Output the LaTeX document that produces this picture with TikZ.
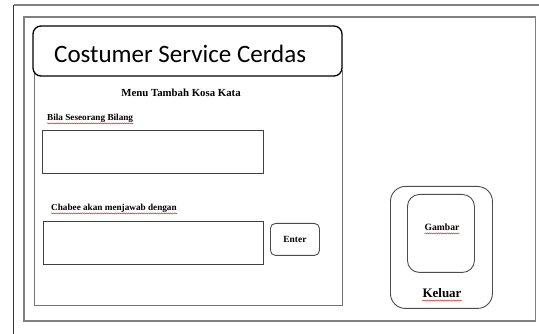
\documentclass[tikz,border=0pt]{standalone}
\usepackage{fontspec}
\setmainfont{Liberation Serif}
\newfontfamily\titlefont{Carlito}
\usetikzlibrary{decorations.pathmorphing}
\tikzset{
  framegray/.style={draw=black!50, line width=1.2pt},
  panelline/.style={draw=black!55, line width=1pt},
  inbox/.style={draw=black!75, line width=0.9pt},
  rbox/.style={draw=black!70, line width=0.9pt, rounded corners=#1},
  lbl/.style={font=\bfseries\fontsize{9.2}{10}\selectfont, inner sep=0pt},
  squig/.style={draw=red!85!black, line width=0.35pt, decorate, decoration={snake, amplitude=0.6pt, segment length=2.2pt}}
}
\begin{document}
\begin{tikzpicture}[x=1pt,y=-1pt]
\useasboundingbox (0,0) rectangle (539,334);
% outer partial frame
\draw[draw=black!50, line width=1.1pt] (539,5) -- (13.5,5);
\draw[draw=black!80, line width=0.9pt] (13.5,5) -- (13.5,334);
% second frame
\draw[framegray] (24,17) rectangle (535.5,321);
% inner panel
\draw[panelline] (34,70) -- (34,306) -- (342,306) -- (342,70);
% title
\draw[draw=black, line width=1.3pt, rounded corners=8pt, fill=white] (33,26) rectangle (342,76);
\node[anchor=base west, inner sep=0pt, font=\titlefont\fontsize{25}{28}\selectfont] (title) at (54,62.5) {Costumer Service Cerdas};
% menu heading
\node[anchor=base, inner sep=0pt, font=\bfseries\fontsize{10.8}{12}\selectfont] (menu) at (181,97) {Menu Tambah Kosa Kata};
% first label and box
\node[lbl, anchor=base west] (bila) at (47,121) {Bila Seseorang Bilang};
\draw[squig] ([yshift=-2.4pt]bila.base west) -- ([yshift=-2.4pt]bila.base east);
\node[inbox, minimum width=221pt, minimum height=43pt, anchor=north west, inner sep=0pt] (box1) at (42,130) {};
% second label and box
\node[lbl, anchor=base west] (chabee) at (51,211) {Chabee akan menjawab dengan};
\draw[squig] ([yshift=-2.4pt]chabee.base west) -- ([yshift=-2.4pt]chabee.base east);
\node[inbox, minimum width=220pt, minimum height=43pt, anchor=north west, inner sep=0pt] (box2) at (43,221) {};
% enter button
\node[rbox=5pt, minimum width=49pt, minimum height=32pt, anchor=north west, inner sep=0pt] (enter) at (270,223) {};
\node[lbl, font=\bfseries\fontsize{9.4}{10}\selectfont] (entert) at (enter.center) {Enter};
% keluar
\node[rbox=15pt, minimum width=102pt, minimum height=122pt, anchor=north west, inner sep=0pt] (keluarbox) at (390,186) {};
\node[rbox=12pt, minimum width=67pt, minimum height=78pt, anchor=north west, inner sep=0pt] (gambarbox) at (407,194) {};
\node[lbl, font=\bfseries\fontsize{9.6}{10}\selectfont, anchor=base] (gambar) at (442,231) {Gambar};
\draw[squig] ([yshift=-2.4pt]gambar.base west) -- ([yshift=-2.4pt]gambar.base east);
\node[lbl, font=\bfseries\fontsize{13}{14}\selectfont, anchor=base] (keluar) at (442,298) {Keluar};
\draw[squig] ([yshift=-2.6pt]keluar.base west) -- ([yshift=-2.6pt]keluar.base east);
\end{tikzpicture}
\end{document}
